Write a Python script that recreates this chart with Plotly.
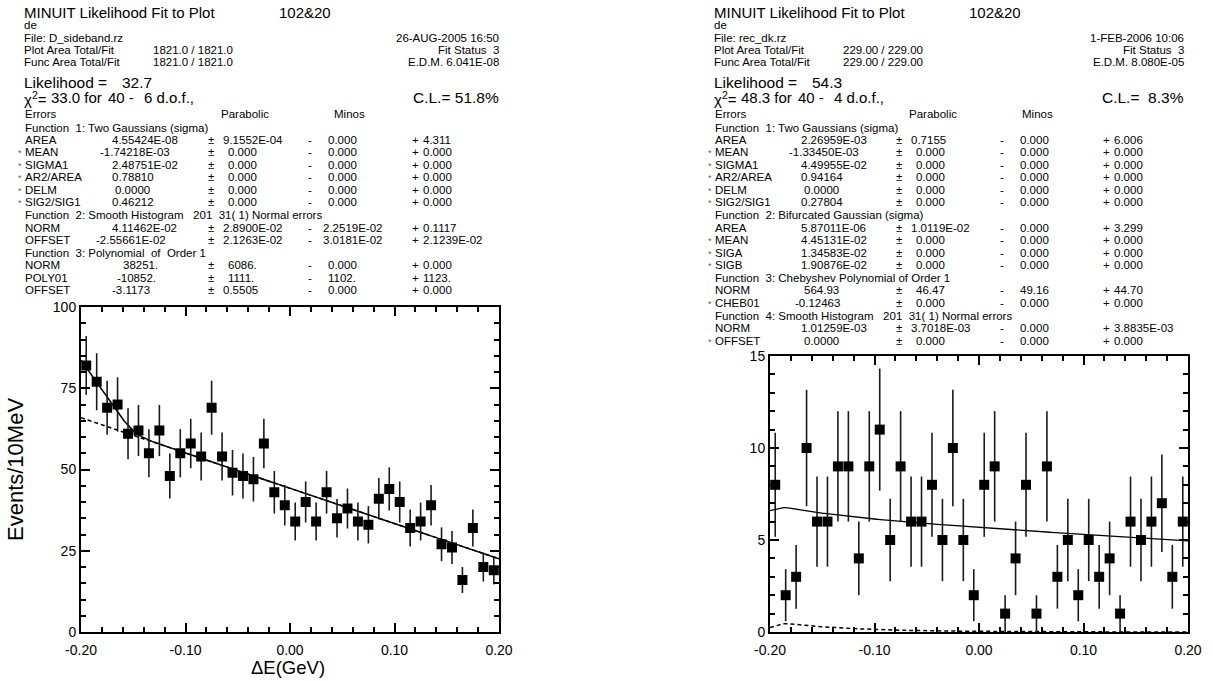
import numpy as np
import plotly.graph_objects as go

W, H = 1213, 681
FONT = "Liberation Sans, Arial, sans-serif"

# ---------------------------------------------------------------- data
# 40 bins of 10 MeV in Delta E between -0.2 and 0.2 GeV
bin_width = 0.01
bin_centres = np.linspace(-0.195, 0.195, 40)

# D sideband sample (left)
counts_sideband = [82, 77, 69, 70, 61, 62, 55, 62, 48, 55,
                   58, 54, 69, 54, 49, 48, 47, 58, 43, 39,
                   34, 40, 34, 43, 35, 38, 34, 33, 41, 44,
                   40, 32, 34, 39, 27, 26, 16, 32, 20, 19]

# rec_dk sample (right)
counts_rec = [8, 2, 3, 10, 6, 6, 9, 9, 4, 9,
              11, 5, 9, 6, 6, 8, 5, 10, 5, 2,
              8, 9, 1, 4, 8, 1, 9, 3, 5, 2,
              5, 3, 4, 1, 6, 5, 6, 7, 3, 6]

x_tick_vals = [-0.2, -0.1, 0.0, 0.1, 0.2]
x_tick_text = ["-0.20", "-0.10", "0.00", "0.10", "0.20"]
y_ticks_left = [0, 25, 50, 75, 100]
y_ticks_right = [0, 5, 10, 15]

# fit results, left: Function 3 polynomial and the smoothed-histogram edge
poly_norm, poly_p1, poly_offset = 38251.0, -10852.0, -3.1173
edge_height, edge_end, edge_soft = 17.7, -0.15, 0.006

# fit results, right: Chebyshev background and smoothed-histogram bump
cheb_norm, cheb_c1, half_range = 564.93, -0.12463, 0.2
bump_height, bump_mean, bump_sig_low, bump_tail = 0.46, -0.184, 0.014, 0.07

# header text of each fit panel
hdr_left = ["File: D_sideband.rz", "26-AUG-2005 16:50",
            "1821.0 / 1821.0", "Fit Status  3",
            "1821.0 / 1821.0", "E.D.M. 6.041E-08",
            "32.7", "33.0 for", "40 -", "6 d.o.f.,", "C.L.= 51.8%"]
hdr_right = ["File: rec_dk.rz", "1-FEB-2006 10:06",
             "229.00 / 229.00", "Fit Status  3",
             "229.00 / 229.00", "E.D.M. 8.080E-05",
             "54.3", "48.3 for", "40 -", "4 d.o.f.,", "C.L.=  8.3%"]

# parameter tables: (name, fixed, value, parabolic, minos-, minos+) or a heading
params_left = [
    "Function  1: Two Gaussians (sigma)",
    ("AREA", False, "4.55424E-08", "9.1552E-04", "0.000", "4.311"),
    ("MEAN", True, "-1.74218E-03", "0.000", "0.000", "0.000"),
    ("SIGMA1", True, "2.48751E-02", "0.000", "0.000", "0.000"),
    ("AR2/AREA", True, "0.78810", "0.000", "0.000", "0.000"),
    ("DELM", True, "0.0000", "0.000", "0.000", "0.000"),
    ("SIG2/SIG1", True, "0.46212", "0.000", "0.000", "0.000"),
    "Function  2: Smooth Histogram   201  31( 1) Normal errors",
    ("NORM", False, "4.11462E-02", "2.8900E-02", "2.2519E-02", "0.1117"),
    ("OFFSET", False, "-2.55661E-02", "2.1263E-02", "3.0181E-02", "2.1239E-02"),
    "Function  3: Polynomial  of  Order 1",
    ("NORM", False, "38251.", "6086.", "0.000", "0.000"),
    ("POLY01", False, "-10852.", "1111.", "1102.", "1123."),
    ("OFFSET", False, "-3.1173", "0.5505", "0.000", "0.000"),
]
params_right = [
    "Function  1: Two Gaussians (sigma)",
    ("AREA", False, "2.26959E-03", "0.7155", "0.000", "6.006"),
    ("MEAN", True, "-1.33450E-03", "0.000", "0.000", "0.000"),
    ("SIGMA1", True, "4.49955E-02", "0.000", "0.000", "0.000"),
    ("AR2/AREA", True, "0.94164", "0.000", "0.000", "0.000"),
    ("DELM", True, "0.0000", "0.000", "0.000", "0.000"),
    ("SIG2/SIG1", True, "0.27804", "0.000", "0.000", "0.000"),
    "Function  2: Bifurcated Gaussian (sigma)",
    ("AREA", False, "5.87011E-06", "1.0119E-02", "0.000", "3.299"),
    ("MEAN", True, "4.45131E-02", "0.000", "0.000", "0.000"),
    ("SIGA", True, "1.34583E-02", "0.000", "0.000", "0.000"),
    ("SIGB", True, "1.90876E-02", "0.000", "0.000", "0.000"),
    "Function  3: Chebyshev Polynomial of Order 1",
    ("NORM", False, "564.93", "46.47", "49.16", "44.70"),
    ("CHEB01", True, "-0.12463", "0.000", "0.000", "0.000"),
    "Function  4: Smooth Histogram   201  31( 1) Normal errors",
    ("NORM", False, "1.01259E-03", "3.7018E-03", "0.000", "3.8835E-03"),
    ("OFFSET", True, "0.0000", "0.000", "0.000", "0.000"),
]


# ---------------------------------------------------------------- fit curves
def poly_bkg(x):
    return bin_width * (poly_norm + poly_p1 * (x - poly_offset))


def sideband_edge(x):
    slope = edge_height / (edge_end + 0.2)
    return slope * edge_soft * np.log1p(np.exp((edge_end - x) / edge_soft))


def cheb_bkg(x):
    return bin_width * cheb_norm * (1.0 + cheb_c1 * x / half_range)


def rec_bump(x):
    d = x - bump_mean
    low = np.exp(-0.5 * (d / bump_sig_low) ** 2)
    high = np.exp(-np.clip(d, 0, None) / bump_tail)
    return bump_height * np.where(d < 0, low, high)


xf = np.linspace(-0.2, 0.2, 401)

# ---------------------------------------------------------------- figure
fig = go.Figure()

err_style = dict(type="data", visible=True, width=0, thickness=1.6, color="#1a1a1a")
mk = dict(symbol="square", size=10, color="black", line=dict(width=0))

# left panel
fig.add_trace(go.Scatter(x=xf, y=poly_bkg(xf), mode="lines",
                         line=dict(color="black", width=1.5, dash="4px,3px"),
                         xaxis="x", yaxis="y"))
fig.add_trace(go.Scatter(x=xf, y=poly_bkg(xf) + sideband_edge(xf), mode="lines",
                         line=dict(color="black", width=1.5),
                         xaxis="x", yaxis="y"))
fig.add_trace(go.Scatter(x=bin_centres, y=counts_sideband, mode="markers", marker=mk,
                         error_y=dict(array=np.sqrt(counts_sideband), **err_style),
                         xaxis="x", yaxis="y"))

# right panel
fig.add_trace(go.Scatter(x=xf, y=rec_bump(xf), mode="lines",
                         line=dict(color="black", width=1.5, dash="4px,3px"),
                         xaxis="x2", yaxis="y2"))
fig.add_trace(go.Scatter(x=xf, y=cheb_bkg(xf) + rec_bump(xf), mode="lines",
                         line=dict(color="black", width=1.3),
                         xaxis="x2", yaxis="y2"))
fig.add_trace(go.Scatter(x=bin_centres, y=counts_rec, mode="markers", marker=mk,
                         error_y=dict(array=np.sqrt(counts_rec), **err_style),
                         xaxis="x2", yaxis="y2"))

axis_common = dict(showline=True, linewidth=2, linecolor="black", mirror="ticks",
                   ticks="inside", ticklen=9, tickwidth=1.5, tickcolor="black",
                   showgrid=False, zeroline=False, automargin=False,
                   tickfont=dict(family=FONT, size=14, color="black"))


def minor(dt):
    return dict(ticks="inside", ticklen=5, tickwidth=1.5, tickcolor="black",
                dtick=dt, showgrid=False)


def ydom(top, bottom):
    return [(H - bottom) / H, (H - top) / H]


fig.update_layout(
    width=W, height=H, margin=dict(l=0, r=0, t=0, b=0, autoexpand=False),
    paper_bgcolor="white", plot_bgcolor="white", showlegend=False,
    xaxis=dict(domain=[81 / W, 499 / W], range=[-0.2, 0.2], anchor="y",
               tickvals=x_tick_vals, ticktext=x_tick_text, ticklabelstandoff=4,
               minor=dict(tick0=-0.2, **minor(0.02)), **axis_common),
    yaxis=dict(domain=ydom(307, 632), range=[0, 100], anchor="x",
               tickvals=y_ticks_left, minor=dict(tick0=0, **minor(5)), **axis_common),
    xaxis2=dict(domain=[770 / W, 1188 / W], range=[-0.2, 0.2], anchor="y2",
                tickvals=x_tick_vals, ticktext=x_tick_text, ticklabelstandoff=4,
                minor=dict(tick0=-0.2, **minor(0.02)), **axis_common),
    yaxis2=dict(domain=ydom(356, 632), range=[0, 15], anchor="x2",
                tickvals=y_ticks_right, minor=dict(tick0=0, **minor(1)), **axis_common),
)

# ---------------------------------------------------------------- text blocks
notes = []


def txt(px, py, s, size=11.5, anchor="left", color="black", angle=0):
    notes.append(dict(x=px / W, y=1 - py / H, xref="paper", yref="paper", text=s,
                      showarrow=False, xanchor=anchor, yanchor="middle",
                      textangle=angle, borderpad=0, borderwidth=0,
                      font=dict(family=FONT, size=size, color=color)))


def panel_text(x0, right_edge, hdr, params, val_x, col):
    # header block
    txt(x0, 12, "MINUIT Likelihood Fit to Plot", 15)
    txt(x0 + 255, 12, "102&20", 15)
    txt(x0, 25, "de", 11.5)
    txt(x0, 38, hdr[0])
    txt(right_edge, 38, hdr[1], anchor="right")
    txt(x0, 50, "Plot Area Total/Fit")
    txt(x0 + 129, 50, hdr[2])
    txt(right_edge, 50, hdr[3], anchor="right")
    txt(x0, 62, "Func Area Total/Fit")
    txt(x0 + 129, 62, hdr[4])
    txt(right_edge, 62, hdr[5], anchor="right")
    txt(x0, 82, "Likelihood =", 15.5)
    txt(x0 + 98, 82, hdr[6], 15.5)
    txt(x0, 98, "χ<sup>2</sup>=", 15)
    txt(x0 + 27, 97, hdr[7], 15)
    txt(x0 + 84, 97, hdr[8], 15)
    txt(x0 + 120, 97, hdr[9], 15)
    txt(right_edge, 97, hdr[10], 15.5, anchor="right")
    # parameter table
    txt(x0 + 1, 114.5, "Errors")
    txt(col[0] - 2, 114.5, "Parabolic")
    txt(col[0] + 111, 114.5, "Minos")
    txt(x0 + 1, 127.5, params[0])
    for k, row in enumerate(params[1:]):
        y = 139.5 + 12.58 * k
        if isinstance(row, str):
            txt(x0 + 1, y, row)
            continue
        name, fixed, val, par, mneg, mpos = row
        if fixed:
            txt(x0 - 6, y + 1, "*", 9, color="#666666")
        txt(x0 + 1, y, name)
        txt(val_x[k], y, val)
        txt(col[0] - 15, y, "±")
        txt(col[0] + (0 if len(par) > 5 else 5), y, par)
        txt(col[1] - 15, y, "-")
        txt(col[1] + (0 if len(mneg) > 5 else 5), y, mneg)
        txt(col[2] - 11, y, "+")
        txt(col[2], y, mpos)


# x position of the value column for each table row
val_x_left = [112, 100, 112, 112, 115, 112, 0, 112, 96, 0, 123, 117, 112]
val_x_right = [801, 789, 801, 801, 804, 801, 0, 801, 801, 801, 801, 0, 804, 795, 0, 801, 804]

panel_text(24, 499, hdr_left, params_left, val_x_left, (223, 323, 423))
panel_text(714, 1184, hdr_right, params_right, val_x_right, (911, 1015, 1114))

# axis titles of the left panel
txt(15, 470, "Events/10MeV", 22, anchor="center", angle=-90)
txt(288, 667, "ΔE(GeV)", 18.5, anchor="center")

fig.update_layout(annotations=notes)
fig.write_html("out.html")
